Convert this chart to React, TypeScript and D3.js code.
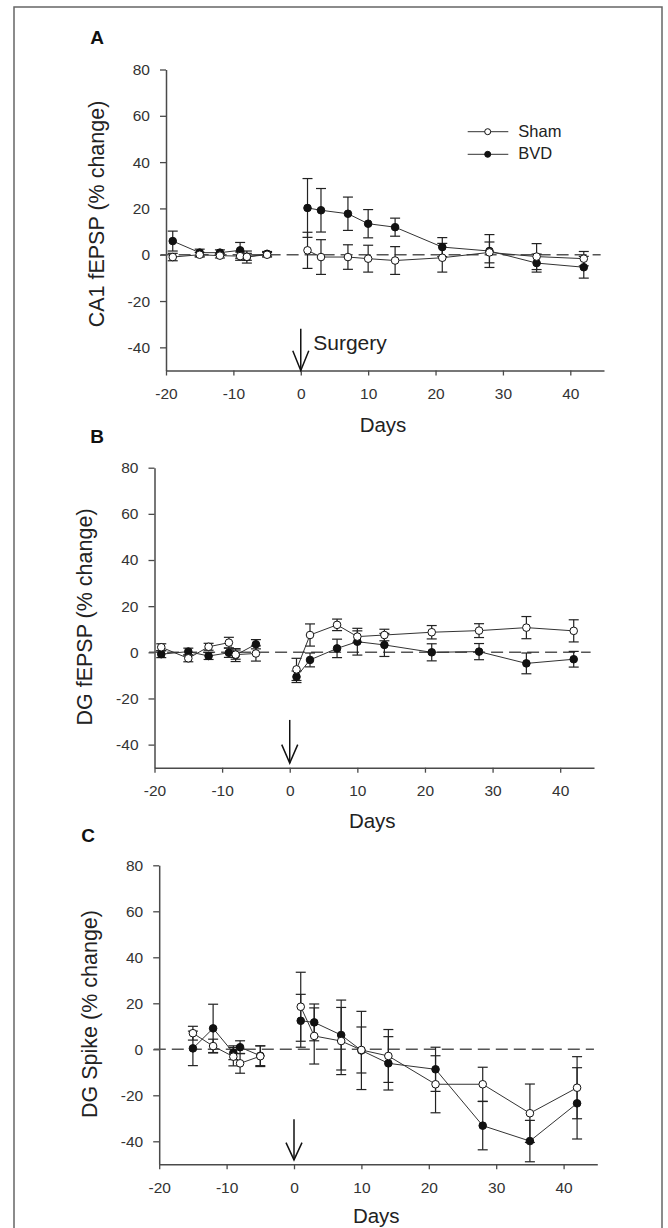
import React, { useEffect, useRef } from 'react';
import * as d3 from 'd3';

// days of recording, before and after surgery
const preDays = [-19, -15, -12, -9, -8, -5];
const preDaysSpike = [-15, -12, -9, -8, -5];
const postDays = [1, 3, 7, 10, 14, 21, 28, 35, 42];

const xTicks = [-20, -10, 0, 10, 20, 30, 40];
const yTicks = [-40, -20, 0, 20, 40, 60, 80];

// A: CA1 fEPSP (% change)
const ca1ShamPre = [-1.0, 0.0, -0.4, -0.6, -0.9, 0.0];
const ca1ShamPreErr = [1.6, 1.0, 1.0, 1.8, 1.5, 1.0];
const ca1ShamPost = [1.9, -1.0, -1.0, -1.7, -2.5, -1.3, 1.0, -0.8, -1.7];
const ca1ShamPostErr = [7.8, 7.5, 5.3, 5.8, 6.0, 6.2, 4.5, 5.6, 3.1];
const ca1BvdPre = [5.9, 0.9, 0.9, 1.9, -1.0, 0.4];
const ca1BvdPreErr = [4.3, 1.5, 1.2, 3.4, 2.6, 1.0];
const ca1BvdPost = [20.2, 19.2, 17.7, 13.4, 11.9, 3.3, 1.6, -3.6, -5.4];
const ca1BvdPostErr = [12.7, 9.4, 7.2, 6.1, 3.9, 4.1, 7.1, 3.9, 4.7];

// B: DG fEPSP (% change)
const dgShamPre = [2.2, -2.6, 2.4, 4.2, -1.0, -0.5];
const dgShamPreErr = [1.5, 1.5, 1.5, 2.3, 2.0, 3.3];
const dgShamPost = [-7.4, 7.5, 11.9, 6.8, 7.5, 8.7, 9.4, 10.7, 9.3];
const dgShamPostErr = [4.8, 4.8, 2.5, 2.5, 2.5, 2.9, 3.0, 4.8, 4.8];
const dgBvdPre = [-0.8, 0.3, -1.6, -0.2, -1.2, 3.5];
const dgBvdPreErr = [1.5, 1.5, 1.5, 2.0, 2.8, 2.0];
const dgBvdPost = [-10.6, -3.3, 1.7, 4.6, 3.2, 0.0, 0.3, -4.8, -3.0];
const dgBvdPostErr = [2.5, 3.0, 4.0, 5.8, 5.0, 3.7, 3.5, 4.5, 3.4];

// C: DG Spike (% change)
const spShamPre = [7.0, 1.4, -3.2, -6.1, -3.0];
const spShamPreErr = [3.0, 3.0, 4.0, 4.3, 4.5];
const spShamPost = [18.5, 5.8, 3.6, -0.3, -2.9, -15.2, -15.2, -27.8, -16.7];
const spShamPostErr = [15.0, 12.2, 14.6, 10.0, 11.5, 12.4, 7.4, 12.7, 13.5];
const spBvdPre = [0.4, 9.1, -1.5, 0.9, -2.8];
const spBvdPreErr = [7.5, 10.5, 3.0, 2.8, 4.3];
const spBvdPost = [12.4, 11.7, 6.2, -0.5, -6.1, -8.7, -33.2, -39.9, -23.5];
const spBvdPostErr = [11.5, 8.0, 15.2, 17.0, 11.6, 9.6, 10.5, 9.0, 15.5];

// surgery arrow, in axis units: [top, wing, tip]
const arrowA = [-32, -41.5, -50];
const arrowB = [-29.3, -40, -48];
const arrowC = [-30.4, -40.6, -48.1];

interface Pt { day: number; v: number; e: number; }

const toPts = (days: number[], v: number[], e: number[]): Pt[] =>
  days.map((d, i) => ({ day: d, v: v[i], e: e[i] }));

interface Panel {
  letter: string;
  yLabel: string;
  left: number; right: number; top: number; bottom: number;
  letterX: number; letterY: number;
  labelY: number;
  daysY: number;
  arrow: number[];
  sham: Pt[][];
  bvd: Pt[][];
  legend?: boolean;
  surgery?: boolean;
}

const panels: Panel[] = [
  {
    letter: 'A', yLabel: 'CA1 fEPSP (% change)',
    left: 166, right: 604, top: 69.5, bottom: 370.5,
    letterX: 97, letterY: 43.5, labelY: 214, daysY: 431.5,
    arrow: arrowA,
    sham: [toPts(preDays, ca1ShamPre, ca1ShamPreErr), toPts(postDays, ca1ShamPost, ca1ShamPostErr)],
    bvd: [toPts(preDays, ca1BvdPre, ca1BvdPreErr), toPts(postDays, ca1BvdPost, ca1BvdPostErr)],
    legend: true, surgery: true,
  },
  {
    letter: 'B', yLabel: 'DG fEPSP (% change)',
    left: 154.5, right: 594, top: 467.7, bottom: 767.7,
    letterX: 97, letterY: 442.7, labelY: 617, daysY: 828,
    arrow: arrowB,
    sham: [toPts(preDays, dgShamPre, dgShamPreErr), toPts(postDays, dgShamPost, dgShamPostErr)],
    bvd: [toPts(preDays, dgBvdPre, dgBvdPreErr), toPts(postDays, dgBvdPost, dgBvdPostErr)],
  },
  {
    letter: 'C', yLabel: 'DG Spike (% change)',
    left: 159.2, right: 597.3, top: 865.3, bottom: 1164.3,
    letterX: 88, letterY: 842, labelY: 1014, daysY: 1223,
    arrow: arrowC,
    sham: [toPts(preDaysSpike, spShamPre, spShamPreErr), toPts(postDays, spShamPost, spShamPostErr)],
    bvd: [toPts(preDaysSpike, spBvdPre, spBvdPreErr), toPts(postDays, spBvdPost, spBvdPostErr)],
  },
];

const FONT = '"Liberation Sans", Arial, sans-serif';
const INK = '#222';
const AXIS = '#4a4a4a';

const App: React.FC = () => {
  const ref = useRef<SVGSVGElement>(null);

  useEffect(() => {
    if (!ref.current) return;
    const root = d3.select(ref.current);
    root.selectAll('*').remove();

    root.append('rect')
      .attr('x', 14).attr('y', 7)
      .attr('width', 648).attr('height', 1240)
      .attr('fill', 'white')
      .attr('stroke', '#666')
      .attr('stroke-width', 1.5);

    panels.forEach(p => {
      const x = d3.scaleLinear().domain([-20, 45]).range([p.left, p.right]);
      const y = d3.scaleLinear().domain([-50, 80]).range([p.bottom, p.top]);
      const g = root.append('g');

      // panel letter
      g.append('text')
        .attr('x', p.letterX).attr('y', p.letterY)
        .attr('text-anchor', 'middle')
        .style('font-family', FONT).style('font-size', '19px').style('font-weight', 'bold')
        .attr('fill', '#111')
        .text(p.letter);

      // axes
      const xAxis = g.append('g')
        .attr('transform', `translate(0,${p.bottom})`)
        .call(d3.axisBottom(x).tickValues(xTicks).tickSize(5).tickSizeOuter(0).tickPadding(12.5)
          .tickFormat(d => String(d)));
      const yAxis = g.append('g')
        .attr('transform', `translate(${p.left},0)`)
        .call(d3.axisLeft(y).tickValues(yTicks).tickSize(6).tickSizeOuter(0).tickPadding(10)
          .tickFormat(d => String(d)));
      [xAxis, yAxis].forEach(a => {
        a.select('.domain').attr('stroke', AXIS).attr('stroke-width', 1.5);
        a.selectAll('.tick line').attr('stroke', AXIS).attr('stroke-width', 1.3);
        a.selectAll('.tick text')
          .attr('fill', '#333')
          .style('font-family', FONT).style('font-size', '15.5px');
      });

      // axis titles
      g.append('text')
        .attr('transform', `translate(${p.left - 62.5},${p.labelY}) rotate(-90)`)
        .attr('text-anchor', 'middle')
        .style('font-family', FONT).style('font-size', '21.5px')
        .attr('fill', INK)
        .text(p.yLabel);
      g.append('text')
        .attr('x', (p.left + p.right) / 2 - 2).attr('y', p.daysY)
        .attr('text-anchor', 'middle')
        .style('font-family', FONT).style('font-size', '20.5px')
        .attr('fill', INK)
        .text('Days');

      // zero reference line
      g.append('line')
        .attr('x1', x(-20.8)).attr('x2', x(44.5))
        .attr('y1', y(0)).attr('y2', y(0))
        .attr('stroke', '#555').attr('stroke-width', 1.5)
        .attr('stroke-dasharray', '12,6');

      // surgery arrow
      const [aTop, aWing, aTip] = p.arrow;
      const ax = x(0);
      g.append('line')
        .attr('x1', ax).attr('x2', ax).attr('y1', y(aTop)).attr('y2', y(aTip))
        .attr('stroke', '#111').attr('stroke-width', 1.5);
      g.append('path')
        .attr('d', `M${ax - 8},${y(aWing)} L${ax},${y(aTip)} L${ax + 8},${y(aWing)}`)
        .attr('fill', 'none').attr('stroke', '#111').attr('stroke-width', 1.5);
      if (p.surgery) {
        g.append('text')
          .attr('x', ax + 12.5).attr('y', y(-41.2))
          .style('font-family', FONT).style('font-size', '21px')
          .attr('fill', INK)
          .text('Surgery');
      }

      const line = d3.line<Pt>().x(d => x(d.day)).y(d => y(d.v));
      const groups = [
        { segs: p.bvd, filled: true },
        { segs: p.sham, filled: false },
      ];

      // error bars
      groups.forEach(s => s.segs.forEach(seg => {
        const eb = g.append('g');
        seg.forEach(d => {
          const cx = x(d.day);
          eb.append('line')
            .attr('x1', cx).attr('x2', cx)
            .attr('y1', y(d.v - d.e)).attr('y2', y(d.v + d.e))
            .attr('stroke', INK).attr('stroke-width', 1.2);
          [d.v - d.e, d.v + d.e].forEach(c => {
            eb.append('line')
              .attr('x1', cx - 5).attr('x2', cx + 5)
              .attr('y1', y(c)).attr('y2', y(c))
              .attr('stroke', INK).attr('stroke-width', 1.2);
          });
        });
      }));

      // connecting lines
      groups.forEach(s => s.segs.forEach(seg => {
        g.append('path')
          .attr('d', line(seg) as string)
          .attr('fill', 'none').attr('stroke', '#333').attr('stroke-width', 1);
      }));

      // markers
      groups.forEach(s => s.segs.forEach(seg => {
        g.selectAll(null)
          .data(seg)
          .enter()
          .append('circle')
          .attr('cx', d => x(d.day))
          .attr('cy', d => y(d.v))
          .attr('r', 3.8)
          .attr('fill', s.filled ? '#111' : 'white')
          .attr('stroke', '#111')
          .attr('stroke-width', 1);
      }));

      // legend
      if (p.legend) {
        const lg = g.append('g');
        [
          { name: 'Sham', filled: false, ly: 131.7 },
          { name: 'BVD', filled: true, ly: 154.3 },
        ].forEach(item => {
          lg.append('line')
            .attr('x1', 467.7).attr('x2', 508.3)
            .attr('y1', item.ly).attr('y2', item.ly)
            .attr('stroke', '#333').attr('stroke-width', 1);
          lg.append('circle')
            .attr('cx', 487.7).attr('cy', item.ly).attr('r', 3)
            .attr('fill', item.filled ? '#111' : 'white')
            .attr('stroke', '#111').attr('stroke-width', 1);
          lg.append('text')
            .attr('x', 518.3).attr('y', item.ly + 5)
            .style('font-family', FONT).style('font-size', '16.5px')
            .attr('fill', INK)
            .text(item.name);
        });
      }
    });
  }, []);

  return (
    <svg
      ref={ref}
      width={668}
      height={1228}
      style={{ position: 'absolute', left: 0, top: 0, background: 'white' }}
    />
  );
};

export default App;
